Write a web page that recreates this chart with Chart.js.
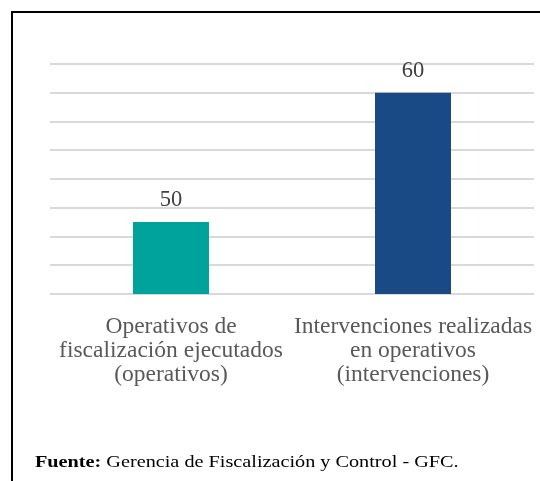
<!DOCTYPE html>
<html>
<head>
<meta charset="utf-8">
<script src="https://cdn.jsdelivr.net/npm/chart.js@4"></script>
<style>
  html, body { margin: 0; padding: 0; background: #fff; }
  #wrap { position: relative; width: 540px; height: 481px; overflow: hidden; }
  #frame {
    position: absolute; left: 11px; top: 11px; width: 700px; height: 700px;
    border-left: 2px solid #000; border-top: 2px solid #000;
  }
  canvas { position: absolute; left: 0; top: 0; }
</style>
</head>
<body>
<div id="wrap">
  <div id="frame"></div>
  <canvas id="chart" width="540" height="481"></canvas>
</div>
<script>
// Chart data
const categories = [
    ['Operativos de', 'fiscalización ejecutados', '(operativos)'],
    ['Intervenciones realizadas', 'en operativos', '(intervenciones)']
];
const values = [50, 60];
const barColors = ['#00a39b', '#1a4a85'];

// value axis as read from the gridlines (no tick labels shown)
const axisMin = 44.444;
const axisMax = 62.222;
const gridStep = 2.2222;

const sourceBold = 'Fuente:';
const sourceText = ' Gerencia de Fiscalización y Control - GFC.';

const SERIF = '"Liberation Serif", "Times New Roman", serif';

// Draw value labels above the bars and the source note
const valueLabels = {
    id: 'valueLabels',
    afterDatasetsDraw(chart) {
        const ctx = chart.ctx;
        const meta = chart.getDatasetMeta(0);
        ctx.save();
        ctx.font = '22.5px ' + SERIF;
        ctx.fillStyle = '#404040';
        ctx.textAlign = 'center';
        ctx.textBaseline = 'alphabetic';
        meta.data.forEach((bar, i) => {
            ctx.fillText(String(values[i]), bar.x, bar.y - 16);
        });
        ctx.restore();
    },
    afterDraw(chart) {
        // source note, slightly stretched sideways like the original
        const ctx = chart.ctx;
        ctx.save();
        ctx.translate(35, 467);
        ctx.scale(1.19, 1);
        ctx.fillStyle = '#000';
        ctx.textAlign = 'left';
        ctx.textBaseline = 'alphabetic';
        ctx.font = 'bold 17px ' + SERIF;
        ctx.fillText(sourceBold, 0, 0);
        const w = ctx.measureText(sourceBold).width;
        ctx.font = '17px ' + SERIF;
        ctx.fillText(sourceText, w, 0);
        ctx.restore();
    }
};

const ctx = document.getElementById('chart').getContext('2d');
new Chart(ctx, {
    type: 'bar',
    data: {
        labels: categories,
        datasets: [{
            data: values,
            backgroundColor: barColors,
            borderWidth: 0,
            categoryPercentage: 1,
            barPercentage: 0.314
        }]
    },
    options: {
        responsive: false,
        animation: false,
        layout: {
            padding: { left: 50, right: 6, top: 64, bottom: 73 }
        },
        plugins: {
            legend: { display: false },
            tooltip: { enabled: false }
        },
        scales: {
            x: {
                grid: { display: false, drawTicks: false },
                border: { display: false },
                afterFit(scale) {
                    scale.paddingLeft = 0;
                    scale.paddingRight = 0;
                },
                ticks: {
                    color: '#595959',
                    padding: 21,
                    autoSkip: false,
                    maxRotation: 0,
                    minRotation: 0,
                    font: { family: SERIF, size: 23.5, lineHeight: '24px' }
                }
            },
            y: {
                min: axisMin,
                max: axisMax,
                afterBuildTicks(scale) {
                    const ticks = [];
                    for (let k = 0; k <= 8; k++) {
                        ticks.push({ value: axisMin + k * gridStep });
                    }
                    scale.ticks = ticks;
                },
                grid: { color: '#d9d9d9', lineWidth: 2, drawTicks: false },
                border: { display: false },
                ticks: { display: false }
            }
        }
    },
    plugins: [valueLabels]
});
</script>
</body>
</html>
